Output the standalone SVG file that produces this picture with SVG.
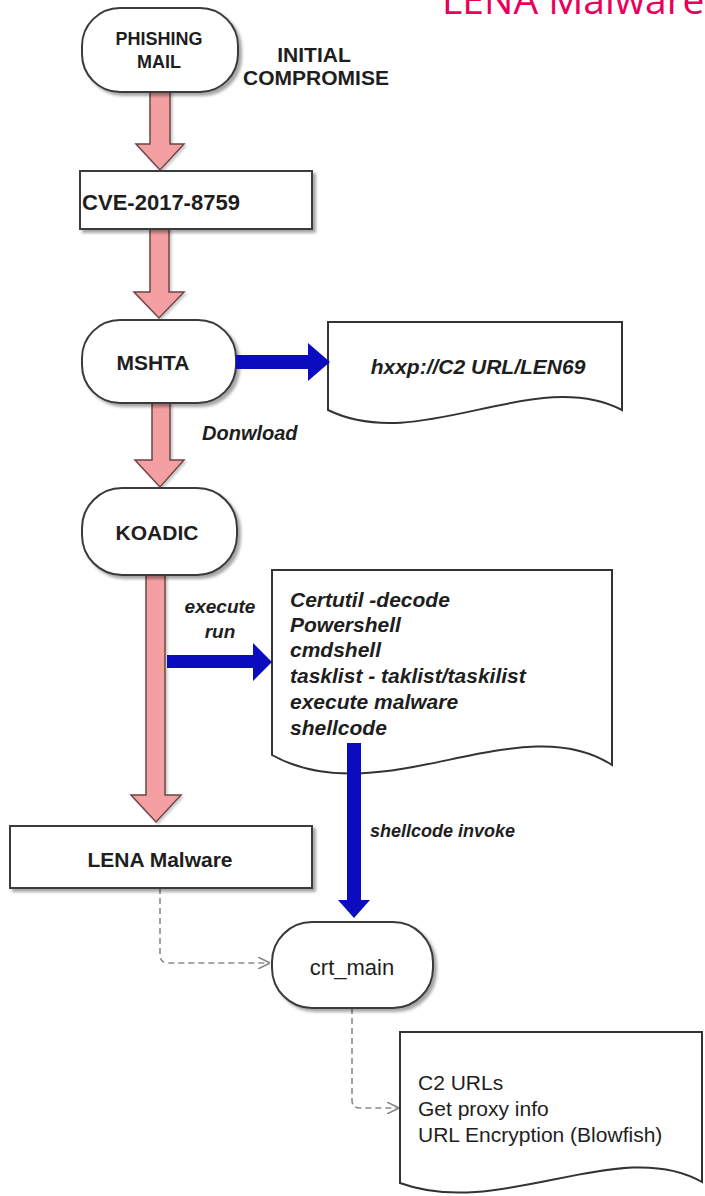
<svg xmlns="http://www.w3.org/2000/svg" width="705" height="1196" viewBox="0 0 705 1196">
<defs>
<style>
.box{fill:#fff;stroke:#3a3a3a;stroke-width:2;filter:url(#sh)}
.doc{fill:#fff;stroke:#333;stroke-width:2}
.b{font-family:"Liberation Sans",Arial,sans-serif;font-weight:bold;fill:#1e1e1e}
.bi{font-family:"Liberation Sans",Arial,sans-serif;font-weight:bold;font-style:italic;fill:#1e1e1e}
.r{font-family:"Liberation Sans",Arial,sans-serif;fill:#1e1e1e}
.pink{fill:#f4a0a3;stroke:#6e4646;stroke-width:1.5;stroke-linejoin:miter;filter:url(#sh2)}
.blue{fill:#0b0bbf;stroke:none}
.dash{fill:none;stroke:#8a8a8a;stroke-width:1.6;stroke-dasharray:6 4}
</style>
<filter id="sh" x="-10%" y="-10%" width="130%" height="140%">
<feGaussianBlur in="SourceAlpha" stdDeviation="1.5"/>
<feOffset dx="3" dy="3" result="o"/>
<feFlood flood-color="#000" flood-opacity="0.35"/>
<feComposite in2="o" operator="in"/>
<feMerge><feMergeNode/><feMergeNode in="SourceGraphic"/></feMerge>
</filter>
<filter id="sh2" x="-30%" y="-10%" width="160%" height="130%">
<feGaussianBlur in="SourceAlpha" stdDeviation="1.2"/>
<feOffset dx="2" dy="2" result="o"/>
<feFlood flood-color="#000" flood-opacity="0.2"/>
<feComposite in2="o" operator="in"/>
<feMerge><feMergeNode/><feMergeNode in="SourceGraphic"/></feMerge>
</filter>
<marker id="open" viewBox="0 0 12 12" refX="12" refY="6" markerWidth="12" markerHeight="12" markerUnits="userSpaceOnUse" orient="auto">
<path d="M0,0 L12,6 L0,12" fill="none" stroke="#8a8a8a" stroke-width="1.6" stroke-dasharray="none"/>
</marker>
</defs>
<rect width="705" height="1196" fill="#fff"/>

<g id="title">
<text x="442" y="14" font-family="Open Sans,Noto Sans,sans-serif" font-size="39" fill="#e8005a">LENA Malware</text>
</g>

<g id="connectors">
<polygon class="pink" points="150,92 170,92 170,144 184,144 160,170 136,144 150,144"/>
<polygon class="pink" points="150,229 169,229 169,292 184,292 159,318 134,292 150,292"/>
<polygon class="pink" points="152,403 170,403 170,460 184,460 160,487 135,460 152,460"/>
<polygon class="pink" points="146,575 165,575 165,795 181,795 156,822 131,795 146,795"/>
<path class="dash" d="M160,888 V955 Q160,963 168,963 H270" marker-end="url(#open)"/>
<path class="dash" d="M352,1008 V1100 Q352,1108 360,1108 H399" marker-end="url(#open)"/>
</g>

<g id="phishing">
<rect class="box" x="82" y="8" width="156" height="84" rx="38" ry="38"/>
<text class="b" x="159" y="45" font-size="18" text-anchor="middle">PHISHING</text>
<text class="b" x="159" y="68" font-size="18" text-anchor="middle">MAIL</text>
</g>
<g id="initial-label">
<text class="b" x="314" y="62" font-size="21" text-anchor="middle">INITIAL</text>
<text class="b" x="316" y="85" font-size="21" text-anchor="middle">COMPROMISE</text>
</g>
<g id="cve">
<rect class="box" x="80" y="171" width="232" height="58"/>
<text class="b" x="161" y="210" font-size="22" text-anchor="middle">CVE-2017-8759</text>
</g>
<g id="mshta">
<rect class="box" x="82" y="320" width="154" height="83" rx="38" ry="38"/>
<text class="b" x="153" y="370" font-size="21" text-anchor="middle">MSHTA</text>
</g>
<g id="url-doc">
<path class="doc" d="M328,322 H622 V410 C535,365 420,455 328,410 Z"/>
<text class="bi" x="478" y="374" font-size="21" text-anchor="middle">hxxp://C2 URL/LEN69</text>
</g>
<g id="download-label">
<text class="bi" x="202" y="440" font-size="20">Donwload</text>
</g>
<g id="koadic">
<rect class="box" x="82" y="488" width="155" height="87" rx="40" ry="40"/>
<text class="b" x="157" y="540" font-size="21" text-anchor="middle">KOADIC</text>
</g>
<g id="execute-label">
<text class="bi" x="220" y="613" font-size="19" text-anchor="middle" fill="#333">execute</text>
<text class="bi" x="220" y="638" font-size="19" text-anchor="middle" fill="#333">run</text>
</g>
<g id="commands-doc">
<path class="doc" d="M272,570 H612 V765 C520,705 380,815 272,755 Z"/>
<text class="bi" font-size="21">
<tspan x="290" y="607">Certutil -decode</tspan>
<tspan x="290" y="632">Powershell</tspan>
<tspan x="290" y="657">cmdshell</tspan>
<tspan x="290" y="683">tasklist - taklist/taskilist</tspan>
<tspan x="290" y="709">execute malware</tspan>
<tspan x="290" y="735">shellcode</tspan>
</text>
</g>
<g id="lena">
<rect class="box" x="10" y="826" width="302" height="62"/>
<text class="b" x="160" y="867" font-size="21" text-anchor="middle">LENA Malware</text>
</g>
<g id="shellcode-label">
<text class="bi" x="370" y="837" font-size="18">shellcode invoke</text>
</g>
<g id="crt_main">
<rect class="box" x="272" y="922" width="161" height="86" rx="40" ry="40"/>
<text class="r" x="352" y="975" font-size="22" text-anchor="middle">crt_main</text>
</g>
<g id="result-doc">
<path class="doc" d="M400,1032 H702 V1182 C620,1135 500,1220 400,1183 Z"/>
<text class="r" font-size="21">
<tspan x="418" y="1090">C2 URLs</tspan>
<tspan x="418" y="1116">Get proxy info</tspan>
<tspan x="418" y="1142">URL Encryption (Blowfish)</tspan>
</text>
</g>

<g id="blue-connectors">
<polygon class="blue" points="236,355 308,355 308,343 330,362 308,381 308,369 236,369"/>
<polygon class="blue" points="167,655 253,655 253,643 272,662 253,681 253,668 167,668"/>
<polygon class="blue" points="347,743 361,743 361,900 370,900 354,918 338,900 347,900"/>
</g>
</svg>
